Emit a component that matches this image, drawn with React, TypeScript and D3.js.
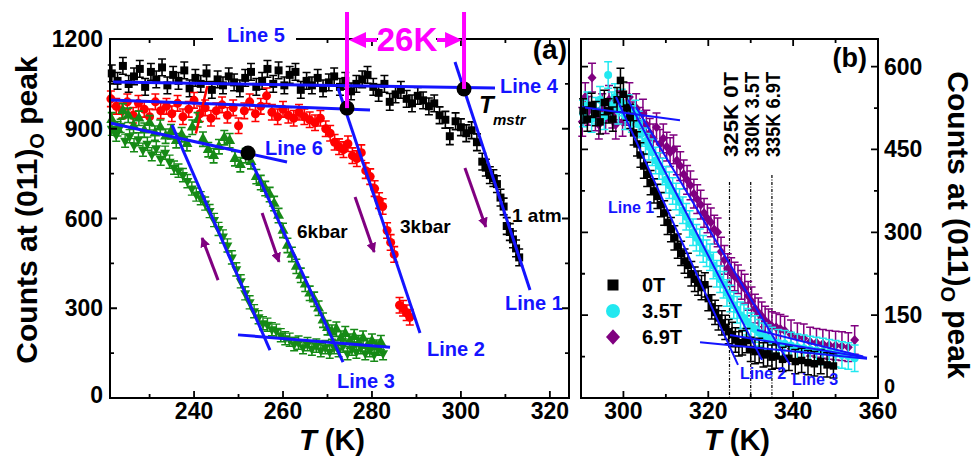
import React from 'react';
import * as d3 from 'd3';

// ---------- Panel (a) data: [T (K), counts] ----------
const atm1: [number, number][] = [
  [221.5,1085],[222.8,1060],[224,1110],[225.3,1050],[226.5,1075],[227.8,1100],[229,1040],[230.3,1090],[231.5,1065],[232.8,1105],
  [234,1045],[235.3,1080],[236.5,1060],[237.8,1095],[239,1035],[240.3,1070],[241.5,1050],[242.8,1085],[244,1030],[245.3,1065],
  [246.5,1045],[247.8,1075],[249,1055],[250.3,1035],[251.5,1070],[252.8,1090],[254,1040],[255.3,1060],[256.5,1100],[257.8,1050],
  [259,1095],[260.3,1045],[261.5,1080],[262.8,1090],[264,1030],[265.3,1060],[266.5,1045],[267.8,1070],[269,1035],[270.3,1055],
  [271.5,1075],[272.8,1040],[274,1060],[275.3,1025],[276.5,1050],[277.8,1065],[279,1080],[280.3,1040],[281.5,1020],[282.8,1050],
  [284,990],[285.3,1015],[286.5,1030],[287.8,1000],[289,985],[290.3,1010],[291.5,995],[292.8,975],[294,985],[295.2,945],
  [296.5,930],[297.5,875],[298.8,925],[300,905],[301.2,885],[302.4,895],[303.6,855],[304.8,790],[305.6,770],[306.5,745],
  [307.3,735],[308.1,715],[308.9,670],[309.6,640],[310.3,575],[311,555],[311.7,530],[312.4,500],[313.1,470]
];
const kbar3: [number, number][] = [
  [221.3,1000],[222.5,975],[223.8,960],[225,990],[226.3,945],[227.5,985],[228.8,965],[230,940],[231.3,990],[232.5,960],
  [233.8,975],[235,950],[236.3,985],[237.5,940],[238.8,965],[240,995],[241.3,950],[242.5,970],[243.8,935],[245,960],
  [246.3,980],[247.5,945],[248.8,970],[250,910],[251.3,960],[252.5,990],[253.8,950],[255,975],[256.3,1010],[257.5,955],
  [258.8,940],[260,965],[261.2,945],[262.4,935],[263.6,955],[264.8,940],[266,930],[267.2,920],[268.4,935],[269.6,900],
  [270.6,885],[271.6,855],[272.6,840],[273.6,830],[274.6,850],[275.6,810],[276.6,800],[277.6,820],[278.6,760],[279.6,740],
  [280.6,700],[281.6,660],[282.4,640],[283.4,560],[284.2,520],[285,480],[286.2,310],[287,300],[287.8,285],[288.5,270]
];
const kbar6Heat: [number, number][] = [
  [221.5,930],[222.8,900],[224,960],[225.2,945],[226.4,910],[227.6,935],[228.8,895],[230,920],[231.2,885],[232.4,905],
  [233.6,875],[234.8,890],[236,860],[237.2,880],[238.4,850],[239.6,905],[240.8,930],[242,865],[243.2,830],[244.4,810],
  [245.6,840],[246.8,870],[248,860],[249.2,800],[250.4,780],[251.6,810],[252.8,790],[254,740],[255,720],[256,700],
  [257,680],[258,650],[259,610],[260,560],[261,510],[262,480],[263,440],[264,410],[265,380],[266,350],
  [267,330],[268,300],[269,260],[270,235],[271,220],[272,230],[273,200],[274,215],[275,190],[276,205],
  [277,185],[278,200],[279,175],[280,190],[281,170],[282,185]
];
const kbar6Cool: [number, number][] = [
  [221.5,900],[222.5,880],[223.5,910],[224.5,860],[225.5,875],[226.5,845],[227.5,865],[228.5,830],[229.5,850],[230.5,815],
  [231.5,835],[232.5,800],[233.5,820],[234.5,790],[235.5,770],[236.5,760],[237.5,745],[238.5,725],[239.5,700],[240.5,680],
  [241.5,668],[242.5,650],[243.5,625],[244.5,595],[245.5,565],[246.5,540],[247.5,510],[248.5,470],[249.5,430],[250.5,390],
  [251.5,350],[252.5,320],[253.5,290],[254.5,270],[255.5,250],[256.5,245],[257.5,230],[258.5,225],[259.5,210],[260.5,200],
  [261.5,195],[262.5,180],[263.5,185],[264.5,170],[265.5,180],[266.5,165],[267.5,175],[268.5,160],[269.5,170],[270.5,155],
  [271.5,170],[272.5,160],[273.5,175],[274.5,150],[275.5,165],[276.5,155],[277.5,170],[278.5,150],[279.5,160],[280.5,145],
  [281.5,165],[282.5,150]
];
// fit lines panel (a)
const fitsA: [number, number][][] = [
  [[298.67,1123],[315.53,361]],   // Line 1
  [[272.36,1036],[290.8,217]],    // Line 2
  [[253.03,786],[273.49,120]],    // Line 3 (heating)
  [[235.04,913],[257.07,160]],    // cooling steep
  [[249.88,211],[284.06,170]],    // baseline
  [[221.77,1056],[307.66,1036]],  // Line 4
  [[221.1,996],[279.56,963]],     // Line 5
  [[221.1,919],[260.9,789]]       // Line 6
];
const dotsA: [number, number][] = [[252.13,819],[274.39,969],[300.7,1033]];
const arrowsA: [number, number][][] = [
  [[300.9,769],[305.6,572]],
  [[276.2,672],[280.5,488]],
  [[255.3,618],[259.1,455]],
  [[245.4,394],[241.8,535]]
];
const line5Pointer: [number, number][] = [[243.0,1043],[240.4,884]];

// ---------- Panel (b) data ----------
const t0: [number, number][] = [
  [290.5,520],[291.5,505],[292.5,530],[293.5,515],[294.5,500],[295.5,535],[296.5,520],[297.5,505],[298.5,540],[299.3,575],
  [300,550],[300.8,525],[301.6,510],[302.4,480],[303.2,460],[304,440],[304.8,420],[305.6,405],[306.4,390],[307.2,375],
  [308,365],[308.8,350],[309.6,335],[310.4,318],[311.2,305],[312,290],[312.8,275],[313.6,262],[314.4,248],[315.2,240],
  [316,225],[316.8,215],[317.6,208],[318.4,200],[319.2,205],[320,180],[320.8,165],[321.6,155],[322.4,145],[323.2,136],
  [324,128],[324.8,120],[325.6,115],[326.4,105],[327.2,98],[328,100],[329,104],[330,88],[331,84],[332,86],
  [333,78],[334,80],[335,74],[336,76],[337.5,70],[339,72],[340.5,66],[342,68],[343.5,64],[345,62],
  [346.5,66],[348,60],[349.5,58]
];
const t35: [number, number][] = [
  [290.5,515],[291.5,530],[292.5,505],[293.5,520],[294.5,540],[295.5,510],[296.4,585],[297.2,530],[298,545],[298.8,520],
  [299.6,535],[300.4,510],[301.2,525],[302,505],[302.8,515],[303.6,495],[304.4,480],[305.2,465],[306,455],[306.8,445],
  [307.6,430],[308.4,420],[309.2,410],[310,395],[310.8,385],[311.6,375],[312.4,365],[313.2,355],[314,340],[314.8,328],
  [315.6,315],[316.4,300],[317.2,290],[318,282],[318.8,270],[319.6,262],[320.4,255],[321.2,240],[322,225],[322.8,215],
  [323.6,205],[324.4,190],[325.2,180],[326,168],[326.8,160],[327.6,150],[328.4,145],[329.2,138],[330,130],[331,125],
  [332,118],[333,112],[334,108],[335,104],[336.5,100],[338,98],[339.5,95],[341,92],[342.5,90],[344,88],
  [345.5,86],[347,84],[348.5,82],[350,80],[351.5,78],[353,76],[354.5,72]
];
const t69: [number, number][] = [
  [290.3,500],[291,545],[291.8,520],[292.6,580],[293.4,510],[294.2,495],[295,525],[295.8,505],[296.6,540],[297.4,515],
  [298.2,495],[299,530],[299.8,500],[300.6,520],[301.4,545],[302.2,510],[303,525],[303.8,500],[304.6,515],[305.4,495],
  [306.2,480],[307,470],[307.8,490],[308.6,460],[309.4,470],[310.2,455],[311,445],[311.8,450],[312.6,430],[313.4,420],
  [314.2,405],[315,395],[315.8,385],[316.6,370],[317.4,360],[318.2,350],[319,335],[319.8,325],[320.6,318],[321.4,305],
  [322.2,300],[323,265],[323.8,250],[324.6,235],[325.4,228],[326.2,220],[327,215],[327.8,205],[328.6,198],[329.4,185],
  [330.2,175],[331,162],[331.8,155],[332.6,148],[333.4,140],[334.2,135],[335,130],[336,128],[337,125],[338,122],
  [339.5,115],[341,110],[342.5,108],[344,102],[345.5,100],[347,98],[348.5,96],[350,95],[351.5,94],[353,92],[354.5,105]
];
const fitsB: [number, number][][] = [
  [[290,527],[313.33,503]],
  [[298.25,545],[327.0,60]],
  [[301.08,540],[332.66,69]],
  [[302.96,527],[339.26,60]],
  [[318.05,101],[357.41,71]],
  [[325.12,114],[357.41,73]],
  [[331.48,123],[356.5,75]]
];
const markTemps = [325, 330, 335];
const markLabels = ['325K 0T', '330K 3.5T', '335K 6.9T'];
const legendLabels = ['0T', '3.5T', '6.9T'];

const xTicksA = [240, 260, 280, 300, 320];
const yTicksA = [0, 300, 600, 900, 1200];
const xTicksB = [300, 320, 340, 360];
const yTicksB = [0, 150, 300, 450, 600];

const BLUE = '#1414ff';
const GREEN = '#168a16';
const RED = '#ff0000';
const CYAN = '#22e8f0';
const PURPLE = '#800080';
const MAGENTA = '#ff00ff';
const FONT = "'Liberation Sans', Arial, Helvetica, sans-serif";

type Shape = 'square' | 'circle' | 'tri' | 'triDown' | 'diamond';
function shapePath(s: Shape, cx: number, cy: number, size: number): string {
  const h = size / 2;
  switch (s) {
    case 'square': return `M${cx - h},${cy - h}h${size}v${size}h${-size}Z`;
    case 'circle': return `M${cx - h},${cy}a${h},${h} 0 1,0 ${size},0a${h},${h} 0 1,0 ${-size},0Z`;
    case 'tri': { const hh = size * 0.9; return `M${cx},${cy - hh * 2 / 3}L${cx + h},${cy + hh / 3}L${cx - h},${cy + hh / 3}Z`; }
    case 'triDown': { const hh = size * 0.9; return `M${cx},${cy + hh * 2 / 3}L${cx + h},${cy - hh / 3}L${cx - h},${cy - hh / 3}Z`; }
    case 'diamond': return `M${cx},${cy - h * 1.1}L${cx + h},${cy}L${cx},${cy + h * 1.1}L${cx - h},${cy}Z`;
  }
}

function Series({ data, x, y, err, shape, color, open, size, cap, sw }: any) {
  return (
    <g>
      {data.map(([t, c]: [number, number], i: number) => {
        const px = x(t), py = y(c), y1 = y(c + err), y2 = y(c - err);
        return (
          <g key={i}>
            <path d={`M${px},${y1}V${y2}M${px - cap / 2},${y1}h${cap}M${px - cap / 2},${y2}h${cap}`} stroke={color} strokeWidth={sw} fill="none" />
            <path d={shapePath(shape, px, py, size)} fill={open ? 'none' : color} stroke={color} strokeWidth={open ? 1.4 : 0} />
          </g>
        );
      })}
    </g>
  );
}

function Ticks({ x0, x1, y0, y1, xs, xsMinor, ys, ysMinor, xScale, yScale }: any) {
  const maj = 7, min = 4;
  const out: JSX.Element[] = [];
  xs.forEach((t: number, i: number) => {
    const px = xScale(t);
    out.push(<path key={'xb' + i} d={`M${px},${y1}v${-maj}M${px},${y0}v${maj}`} />);
  });
  xsMinor.forEach((t: number, i: number) => {
    const px = xScale(t);
    out.push(<path key={'xm' + i} d={`M${px},${y1}v${-min}M${px},${y0}v${min}`} />);
  });
  ys.forEach((v: number, i: number) => {
    const py = yScale(v);
    out.push(<path key={'yb' + i} d={`M${x0},${py}h${maj}M${x1},${py}h${-maj}`} />);
  });
  ysMinor.forEach((v: number, i: number) => {
    const py = yScale(v);
    out.push(<path key={'ym' + i} d={`M${x0},${py}h${min}M${x1},${py}h${-min}`} />);
  });
  return <g stroke="#000" strokeWidth={1.8} fill="none">{out}</g>;
}

export default function App() {
  const xa = d3.scaleLinear().domain([221.1, 324.3]).range([110, 569]);
  const ya = d3.scaleLinear().domain([0, 1200]).range([398, 39]);
  const xb = d3.scaleLinear().domain([290, 360]).range([581, 878]);
  const yb = d3.scaleLinear().domain([0, 650]).range([398, 39]);
  const lineA = d3.line<[number, number]>().x(d => xa(d[0])).y(d => ya(d[1]));
  const lineB = d3.line<[number, number]>().x(d => xb(d[0])).y(d => yb(d[1]));

  const aL = 110, aR = 569, aT = 39, aB = 398;
  const bL = 581, bR = 878, bT = 39, bB = 398;

  const dot1x = xa(dotsA[1][0]), dot2x = xa(dotsA[2][0]);

  return (
    <svg width={975} height={458} style={{ position: 'absolute', left: 0, top: 0, background: '#fff' }} fontFamily={FONT} fontWeight="bold">
      <defs>
        <marker id="pArrow" viewBox="0 0 10 10" refX="9" refY="5" markerWidth="10" markerHeight="10" markerUnits="userSpaceOnUse" orient="auto">
          <path d="M0,0L10,5L0,10Z" fill={PURPLE} />
        </marker>
      </defs>
      <rect x={0} y={0} width={975} height={458} fill="#fff" />

      {/* ================= Panel (a) ================= */}
      <Series data={atm1} x={xa} y={ya} err={28} shape="square" color="#000" size={8} cap={8} sw={1.6} />
      <Series data={kbar3} x={xa} y={ya} err={26} shape="circle" color={RED} size={9} cap={8} sw={1.6} />
      <Series data={kbar6Cool} x={xa} y={ya} err={22} shape="triDown" color={GREEN} size={10} cap={8} sw={1.4} />
      <Series data={kbar6Heat} x={xa} y={ya} err={24} shape="tri" color={GREEN} size={11} cap={8} sw={1.6} />

      {fitsA.map((f, i) => <path key={i} d={lineA(f) || ''} stroke={BLUE} strokeWidth={3} fill="none" />)}
      <path d={lineA(line5Pointer) || ''} stroke={RED} strokeWidth={2.5} fill="none" />
      {dotsA.map((d, i) => <circle key={i} cx={xa(d[0])} cy={ya(d[1])} r={7.5} fill="#000" />)}
      {arrowsA.map((a, i) => <path key={i} d={lineA(a) || ''} stroke={PURPLE} strokeWidth={3} fill="none" markerEnd="url(#pArrow)" />)}

      <rect x={aL} y={aT} width={aR - aL} height={aB - aT} fill="none" stroke="#000" strokeWidth={2} />
      <Ticks x0={aL} x1={aR} y0={aT} y1={aB} xScale={xa} yScale={ya}
        xs={xTicksA} xsMinor={[230, 250, 270, 290, 310]} ys={yTicksA} ysMinor={[150, 450, 750, 1050]} />

      {xTicksA.map(t => <text key={t} x={xa(t)} y={419} fontSize={23} textAnchor="middle">{t}</text>)}
      {yTicksA.map(v => <text key={v} x={103} y={ya(v) + (v === 0 ? 5 : 8)} fontSize={23} textAnchor="end">{v}</text>)}

      {/* magenta 26K annotation */}
      <g stroke={MAGENTA} strokeWidth={4} fill="none">
        <path d={`M${dot1x},12V${ya(dotsA[1][1])}`} />
        <path d={`M${dot2x},12V${ya(dotsA[2][1])}`} />
        <path d={`M${dot1x + 10},40H377M437,40H${dot2x - 10}`} />
      </g>
      <path d={`M${dot1x + 2},40L${dot1x + 19},32L${dot1x + 19},48Z`} fill={MAGENTA} />
      <path d={`M${dot2x - 2},40L${dot2x - 19},32L${dot2x - 19},48Z`} fill={MAGENTA} />
      <rect x={378} y={24} width={58} height={28} fill="#fff" />
      <text x={407} y={51} fontSize={33} fill={MAGENTA} textAnchor="middle">26K</text>

      {/* Line 5 label over frame */}
      <rect x={213} y={26} width={83} height={20} fill="#fff" />
      <text x={256} y={42} fontSize={20} fill={BLUE} textAnchor="middle">Line 5</text>
      <text x={500} y={93} fontSize={20} fill={BLUE}>Line 4</text>
      <text x={265} y={155} fontSize={20} fill={BLUE}>Line 6</text>
      <text x={505} y={310} fontSize={20} fill={BLUE}>Line 1</text>
      <text x={427} y={356} fontSize={20} fill={BLUE}>Line 2</text>
      <text x={337} y={388} fontSize={20} fill={BLUE}>Line 3</text>

      <text x={479} y={113} fontSize={24} fontStyle="italic">T</text>
      <text x={493} y={125} fontSize={15} fontStyle="italic">mstr</text>
      <text x={512} y={222} fontSize={19}>1 atm</text>
      <text x={400} y={233} fontSize={19}>3kbar</text>
      <text x={297} y={238} fontSize={19}>6kbar</text>
      <text x={567} y={59} fontSize={28} textAnchor="end">(a)</text>

      <text transform="translate(37,210) rotate(-90)" fontSize={30} textAnchor="middle">
        Counts at (011)<tspan fontSize={20} dy={7}>O</tspan><tspan dy={-7}> peak</tspan>
      </text>
      <text x={332} y={450} fontSize={29} textAnchor="middle">
        <tspan fontStyle="italic">T</tspan> (K)
      </text>

      {/* ================= Panel (b) ================= */}
      {markTemps.map((t, i) => (
        <path key={t} d={`M${xb(t)},${i === 2 ? 175 : 182}V${bB}`} stroke="#000" strokeWidth={1.2} strokeDasharray="3,1.5,1,1.5" fill="none" />
      ))}
      {markTemps.map((t, i) => (
        <text key={'l' + t} transform={`translate(${xb(t) + 8},157) rotate(-90)`} fontSize={21} textLength={85} lengthAdjust="spacingAndGlyphs">{markLabels[i]}</text>
      ))}

      <Series data={t69} x={xb} y={yb} err={26} shape="diamond" color={PURPLE} size={9} cap={8} sw={1.5} />
      <Series data={t35} x={xb} y={yb} err={24} shape="circle" color={CYAN} size={8} cap={8} sw={1.5} />
      <Series data={t0} x={xb} y={yb} err={22} shape="square" color="#000" size={7.5} cap={8} sw={1.5} />

      {fitsB.map((f, i) => <path key={i} d={lineB(f) || ''} stroke={BLUE} strokeWidth={2} fill="none" />)}

      <rect x={bL} y={bT} width={bR - bL} height={bB - bT} fill="none" stroke="#000" strokeWidth={2} />
      <Ticks x0={bL} x1={bR} y0={bT} y1={bB} xScale={xb} yScale={yb}
        xs={xTicksB} xsMinor={[310, 330, 350]} ys={yTicksB} ysMinor={[75, 225, 375, 525]} />

      {xTicksB.map(t => <text key={t} x={xb(t)} y={419} fontSize={23} textAnchor="middle">{t}</text>)}
      {yTicksB.map(v => <text key={v} x={884} y={yb(v) + (v === 0 ? -5 : 8)} fontSize={v === 0 ? 20 : 23}>{v}</text>)}

      <text x={867} y={67} fontSize={27} textAnchor="end">(b)</text>
      <text x={608} y={213} fontSize={16} fill={BLUE}>Line 1</text>
      <text x={740} y={379} fontSize={16} fill={BLUE}>Line 2</text>
      <text x={792} y={385} fontSize={16} fill={BLUE}>Line 3</text>

      {/* legend */}
      <path d={shapePath('square', 613, 285, 11)} fill="#000" />
      <path d={shapePath('circle', 613, 311, 14)} fill={CYAN} />
      <path d={shapePath('diamond', 613, 337, 14)} fill={PURPLE} />
      {legendLabels.map((l, i) => <text key={l} x={642} y={292 + i * 26} fontSize={20}>{l}</text>)}

      <text transform="translate(948,225) rotate(90)" fontSize={30} textAnchor="middle">
        Counts at (011)<tspan fontSize={20} dy={7}>O</tspan><tspan dy={-7}> peak</tspan>
      </text>
      <text x={737} y={450} fontSize={29} textAnchor="middle">
        <tspan fontStyle="italic">T</tspan> (K)
      </text>
    </svg>
  );
}
